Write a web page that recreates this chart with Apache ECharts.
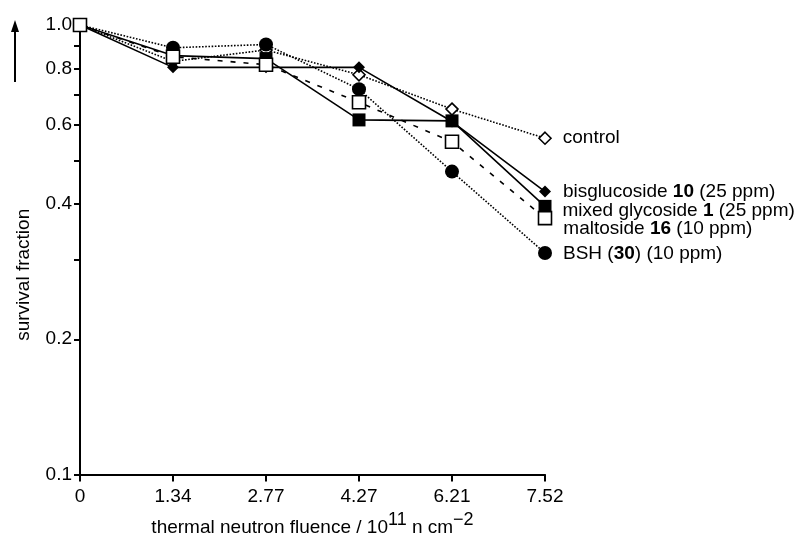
<!DOCTYPE html>
<html>
<head>
<meta charset="utf-8">
<script src="https://cdn.jsdelivr.net/npm/echarts@6/dist/echarts.min.js"></script>
<style>html,body{margin:0;padding:0;background:#fff;overflow:hidden}#c{width:797px;height:542px}</style>
</head>
<body>
<div id="c"></div>
<script>
var categories = ['0', '1.34', '2.77', '4.27', '6.21', '7.52'];
var control = [1.0, 0.83, 0.88, 0.775, 0.65, 0.56];
var bsh = [1.0, 0.89, 0.905, 0.72, 0.472, 0.311];
var bisglucoside = [1.0, 0.805, 0.805, 0.805, 0.61, 0.426];
var mixedGlycoside = [1.0, 0.855, 0.842, 0.615, 0.612, 0.395];
var maltoside = [1.0, 0.85, 0.816, 0.673, 0.55, 0.372];
var yLabelTicks = [0.1, 0.2, 0.4, 0.6, 0.8, 1.0];
var yMinorTicks = [0.1, 0.2, 0.3, 0.4, 0.5, 0.6, 0.7, 0.8, 0.9, 1.0];

var FONT = 'Liberation Sans, Arial, sans-serif';
var FS = 19;
var chart = echarts.init(document.getElementById('c'), null, { width: 797, height: 542, renderer: 'canvas' });

function mk(name, values, opt) {
  var data = values.map(function (v, i) {
    if (i === values.length - 1) {
      return {
        value: v,
        label: {
          show: true,
          position: 'right',
          distance: opt.labelDist,
          offset: [0, opt.labelDy || 0],
          formatter: opt.labelText,
          color: '#000',
          fontFamily: FONT,
          fontSize: FS,
          rich: { b: { fontWeight: 'bold', fontFamily: FONT, fontSize: FS, color: '#000' } }
        }
      };
    }
    return v;
  });
  return {
    name: name,
    type: 'line',
    data: data,
    z: opt.z,
    symbol: opt.symbol,
    symbolSize: opt.size,
    showAllSymbol: true,
    animation: false,
    lineStyle: { color: '#000', width: 1.6, type: opt.lineType },
    itemStyle: { color: opt.fill, borderColor: '#000', borderWidth: opt.fill === '#fff' ? 1.6 : 0 },
    emphasis: { disabled: true }
  };
}

var option = {
  animation: false,
  backgroundColor: '#fff',
  grid: { left: 80, right: 252, top: 25, bottom: 52, containLabel: false },
  xAxis: {
    type: 'category',
    data: categories,
    boundaryGap: false,
    name: 'thermal neutron fluence / 10{sup|11} n cm{sup|\u22122}',
    nameLocation: 'middle',
    nameGap: 36,
    nameTextStyle: {
      color: '#000', fontFamily: FONT, fontSize: FS,
      rich: { sup: { fontSize: 18, verticalAlign: 'bottom', padding: [0, 0, 14, 0], color: '#000', fontFamily: FONT } }
    },
    axisLine: { lineStyle: { color: '#000', width: 2 } },
    axisTick: { show: true, inside: false, length: 7, alignWithLabel: true, lineStyle: { color: '#000', width: 2 } },
    axisLabel: { color: '#000', fontFamily: FONT, fontSize: FS, margin: 13 },
    splitLine: { show: false }
  },
  yAxis: {
    type: 'log',
    min: 0.1,
    max: 1.0,
    logBase: 10,
    name: 'survival fraction',
    nameLocation: 'middle',
    nameGap: 47,
    nameTextStyle: { color: '#000', fontFamily: FONT, fontSize: FS, padding: [0, 50, 0, 0] },
    axisLine: { show: true, lineStyle: { color: '#000', width: 2 } },
    axisTick: { show: true, length: 6, customValues: yMinorTicks, lineStyle: { color: '#000', width: 2 } },
    minorTick: { show: false },
    axisLabel: {
      color: '#000', fontFamily: FONT, fontSize: FS, margin: 8,
      customValues: yLabelTicks,
      formatter: function (v) { return Number(v).toFixed(1); }
    },
    splitLine: { show: false }
  },
  graphic: [
    { type: 'line', shape: { x1: 15, y1: 82, x2: 15, y2: 30 }, style: { stroke: '#000', lineWidth: 2 } },
    { type: 'polygon', shape: { points: [[15, 20], [11, 32], [19, 32]] }, style: { fill: '#000' } }
  ],
  series: [
    mk('control', control, { z: 2, symbol: 'diamond', size: 12, fill: '#fff', lineType: 'dotted', labelDist: 11, labelText: 'control' }),
    mk('BSH', bsh, { z: 3, symbol: 'circle', size: 14, fill: '#000', lineType: 'dotted', labelDist: 11, labelDy: 1, labelText: 'BSH ({b|30}) (10 ppm)' }),
    mk('bisglucoside', bisglucoside, { z: 4, symbol: 'diamond', size: 12, fill: '#000', lineType: 'solid', labelDist: 12, labelText: 'bisglucoside {b|10} (25 ppm)' }),
    mk('mixed', mixedGlycoside, { z: 5, symbol: 'rect', size: 13, fill: '#000', lineType: 'solid', labelDist: 11, labelDy: 4, labelText: 'mixed glycoside {b|1} (25 ppm)' }),
    mk('maltoside', maltoside, { z: 6, symbol: 'rect', size: 13, fill: '#fff', lineType: [5, 8], labelDist: 11, labelDy: 11, labelText: 'maltoside {b|16} (10 ppm)' })
  ]
};
chart.setOption(option);
</script>
</body>
</html>
